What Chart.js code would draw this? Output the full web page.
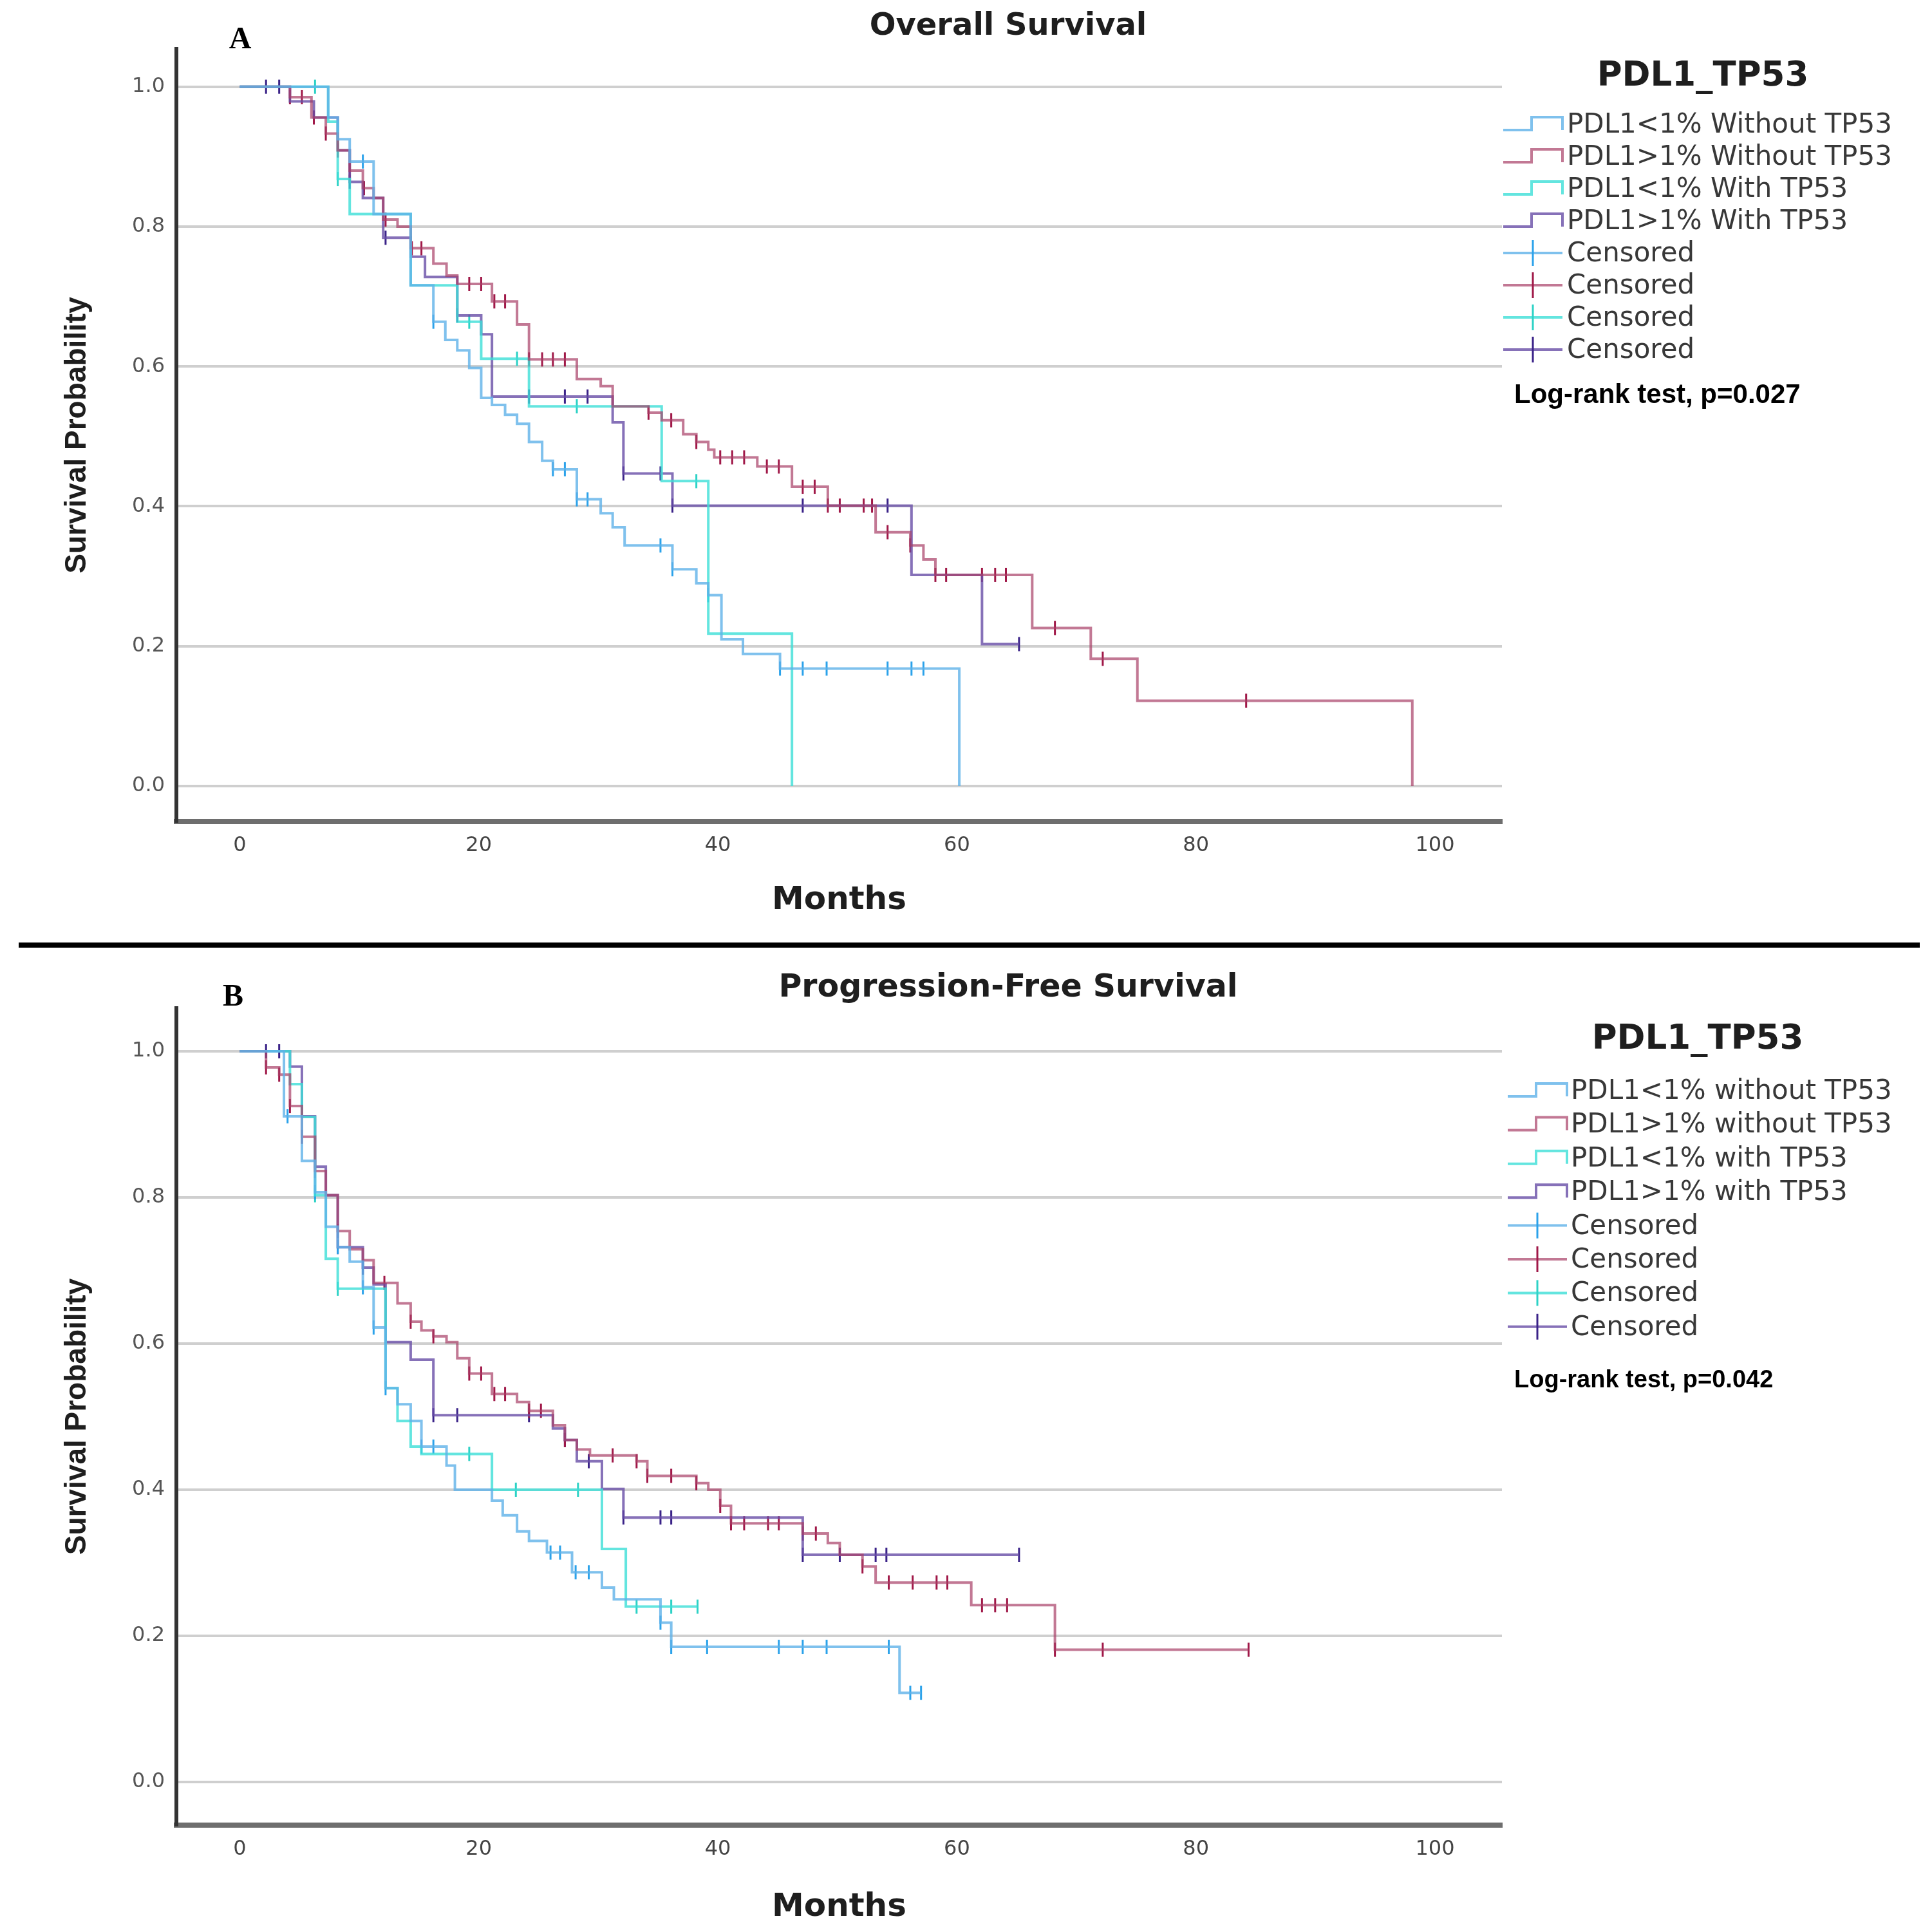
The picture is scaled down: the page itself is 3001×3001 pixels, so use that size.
<!DOCTYPE html>
<html>
<head>
<meta charset="utf-8">
<script src="https://cdn.jsdelivr.net/npm/chart.js@4.4.0/dist/chart.umd.min.js"></script>
<style>
  html, body { margin: 0; padding: 0; background: #fff; }
  #page { position: relative; width: 3001px; height: 3001px; background: #fff; overflow: hidden; }
  #os { position: absolute; left: 0; top: 0; }
  #pfs { position: absolute; left: 0; top: 1480px; }
  #sep { position: absolute; left: 29px; top: 1464px; width: 2953px; height: 8px; background: #000; }
</style>
</head>
<body>
<div id="page">
  <canvas id="os" width="3001" height="1440" style="width:3001px;height:1440px"></canvas>
  <div id="sep"></div>
  <canvas id="pfs" width="3001" height="1521" style="width:3001px;height:1521px"></canvas>
</div>
<script>
// tick labels
const xTicks = [0, 20, 40, 60, 80, 100];
const yTicks = [0, 0.2, 0.4, 0.6, 0.8, 1.0];

// legend texts
const osLabels = ["PDL1<1% Without TP53", "PDL1>1% Without TP53", "PDL1<1% With TP53", "PDL1>1% With TP53",
                  "Censored", "Censored", "Censored", "Censored"];
const pfsLabels = ["PDL1<1% without TP53", "PDL1>1% without TP53", "PDL1<1% with TP53", "PDL1>1% with TP53",
                   "Censored", "Censored", "Censored", "Censored"];

// ---- Overall survival ----
const osBlueT = [0, 7.4, 8.2, 9.2, 11.2, 14.3, 16.2, 17.2, 18.2, 19.2, 20.2, 21.1, 22.2, 23.2, 24.2, 25.3, 26.2, 28.2, 30.2, 31.2, 32.2, 36.2, 38.2, 39.2, 40.3, 42.1, 45.2, 60.2];
const osBlueS = [1, 0.956, 0.925, 0.893, 0.818, 0.716, 0.664, 0.638, 0.623, 0.598, 0.555, 0.545, 0.531, 0.518, 0.492, 0.465, 0.453, 0.41, 0.39, 0.37, 0.344, 0.31, 0.29, 0.273, 0.21, 0.189, 0.168, 0];
const osBlueC = [10.3, 16.2, 26.2, 27.2, 28.2, 29.1, 35.2, 36.2, 39.2, 45.2, 47.1, 49.1, 54.2, 56.2, 57.2];

const osRedT = [0, 4.2, 6.0, 7.2, 8.2, 9.2, 10.3, 11.2, 12.0, 13.2, 14.3, 16.2, 17.3, 18.2, 21.1, 23.2, 24.2, 28.2, 30.2, 31.2, 34.2, 35.3, 37.1, 38.2, 39.2, 39.7, 43.3, 46.2, 49.2, 53.2, 56.1, 57.2, 58.2, 66.3, 71.2, 75.1, 98.1];
const osRedS = [1, 0.985, 0.956, 0.933, 0.909, 0.88, 0.855, 0.841, 0.81, 0.80, 0.769, 0.747, 0.73, 0.718, 0.693, 0.66, 0.61, 0.582, 0.572, 0.543, 0.534, 0.523, 0.503, 0.492, 0.481, 0.47, 0.457, 0.428, 0.401, 0.363, 0.344, 0.324, 0.302, 0.226, 0.182, 0.122, 0];
const osRedC = [4.2, 5.2, 6.2, 7.2, 8.2, 9.2, 10.4, 12.2, 14.4, 15.2, 19.2, 20.2, 21.3, 22.2, 24.2, 25.3, 26.2, 27.2, 34.2, 36.1, 38.2, 40.2, 41.2, 42.2, 44.1, 45.1, 47.1, 48.1, 49.2, 50.2, 52.2, 52.9, 54.2, 56.1, 58.2, 59.1, 62.1, 63.2, 64.1, 68.2, 72.2, 84.2];

const osCyanT = [0, 7.4, 8.2, 9.2, 14.3, 18.2, 20.2, 24.2, 35.3, 39.2, 46.2];
const osCyanS = [1, 0.95, 0.868, 0.818, 0.716, 0.664, 0.611, 0.543, 0.436, 0.218, 0];
const osCyanC = [6.3, 8.2, 19.2, 23.2, 28.2, 38.2];

const osPurpleT = [0, 4.2, 6.2, 8.2, 9.2, 10.3, 12.0, 14.3, 15.5, 18.2, 20.2, 21.1, 31.2, 32.1, 36.2, 56.2, 62.1];
const osPurpleS = [1, 0.979, 0.956, 0.909, 0.864, 0.841, 0.784, 0.757, 0.728, 0.673, 0.646, 0.557, 0.52, 0.447, 0.401, 0.302, 0.203];
const osPurpleC = [2.2, 3.3, 8.2, 9.2, 12.2, 18.2, 24.2, 27.2, 29.1, 32.1, 35.2, 36.2, 47.1, 54.2, 65.2];

// ---- Progression-free survival ----
const pfsBlueT = [0, 3.7, 5.2, 6.3, 7.2, 8.2, 9.2, 10.3, 11.2, 12.2, 13.2, 14.3, 15.2, 17.3, 18.0, 21.1, 22.0, 23.2, 24.2, 25.7, 27.8, 30.3, 31.3, 35.2, 36.1, 55.2];
const pfsBlueS = [1, 0.911, 0.85, 0.807, 0.76, 0.732, 0.712, 0.677, 0.622, 0.539, 0.517, 0.494, 0.459, 0.433, 0.40, 0.385, 0.365, 0.343, 0.33, 0.314, 0.287, 0.266, 0.25, 0.218, 0.185, 0.122];
const pfsBlueC = [4.0, 6.3, 8.2, 10.3, 11.2, 12.2, 15.2, 16.2, 26.0, 26.8, 28.1, 29.2, 35.2, 36.1, 39.1, 45.1, 47.1, 49.1, 54.3, 56.1, 57.0];

const pfsRedT = [0, 2.2, 3.3, 4.2, 5.2, 6.3, 7.2, 8.2, 9.2, 10.3, 11.2, 13.2, 14.3, 15.2, 16.2, 17.3, 18.2, 19.2, 21.1, 23.2, 24.2, 26.2, 27.2, 28.2, 29.3, 33.2, 34.1, 38.2, 39.2, 40.2, 41.1, 47.1, 49.2, 50.2, 52.1, 53.2, 61.2, 68.2];
const pfsRedS = [1, 0.978, 0.968, 0.925, 0.883, 0.836, 0.803, 0.754, 0.729, 0.714, 0.683, 0.655, 0.63, 0.618, 0.61, 0.602, 0.58, 0.559, 0.531, 0.52, 0.508, 0.488, 0.468, 0.455, 0.447, 0.439, 0.419, 0.409, 0.40, 0.378, 0.354, 0.34, 0.327, 0.311, 0.295, 0.273, 0.242, 0.181];
const pfsRedC = [2.2, 3.3, 4.2, 5.2, 6.3, 8.2, 12.1, 14.3, 16.2, 19.2, 20.2, 21.3, 22.2, 24.2, 25.2, 27.2, 31.2, 33.2, 34.1, 36.1, 38.2, 40.2, 41.1, 42.2, 44.2, 45.1, 47.1, 48.2, 52.1, 54.3, 56.3, 58.3, 59.2, 62.1, 63.2, 64.2, 68.2, 72.2, 84.4];

const pfsCyanT = [0, 4.2, 5.2, 6.3, 7.2, 8.2, 12.2, 13.2, 14.3, 15.2, 21.1, 30.3, 32.3];
const pfsCyanS = [1, 0.955, 0.91, 0.803, 0.716, 0.675, 0.539, 0.494, 0.459, 0.449, 0.40, 0.319, 0.24];
const pfsCyanC = [6.3, 8.2, 19.2, 23.1, 28.3, 33.2, 36.1, 38.3];

const pfsPurpleT = [0, 4.2, 5.2, 6.3, 7.2, 8.2, 10.3, 11.2, 12.2, 14.3, 16.2, 26.2, 27.2, 28.2, 30.3, 32.1, 47.1];
const pfsPurpleS = [1, 0.979, 0.911, 0.842, 0.803, 0.732, 0.704, 0.681, 0.602, 0.578, 0.502, 0.484, 0.468, 0.439, 0.401, 0.362, 0.311];
const pfsPurpleC = [2.2, 3.3, 8.2, 10.3, 16.2, 18.2, 24.2, 27.2, 29.2, 32.1, 35.2, 36.1, 47.1, 50.2, 53.2, 54.1, 65.2];

// blue, red, cyan, purple
const lineColors = ["rgba(95,178,232,0.8)", "rgba(168,62,102,0.7)", "rgba(60,222,215,0.8)", "rgba(104,78,166,0.8)"];
const markColors = ["#2ba2ea", "#a01848", "#2dd2c6", "#3a2288"];

Chart.defaults.font.family = "DejaVu Sans";

function survAt(times, surv, t) {
  let s = surv[0];
  for (let i = 0; i < times.length; i++) if (times[i] <= t) s = surv[i];
  return s;
}

function curvePoints(times, surv, cens) {
  const pts = times.map((t, i) => ({ x: t, y: surv[i] }));
  const lastC = Math.max(...cens);
  if (lastC > times[times.length - 1]) pts.push({ x: lastC, y: surv[surv.length - 1] });
  return pts;
}

function buildDatasets(groups) {
  const lines = groups.map((g, i) => ({
    data: curvePoints(g[0], g[1], g[2]),
    borderColor: lineColors[i],
    borderWidth: 4,
    stepped: true,
    pointRadius: 0,
    fill: false
  }));
  const marks = groups.map((g, i) => ({
    data: g[2].map(t => ({ x: t, y: survAt(g[0], g[1], t) })),
    showLine: false,
    pointStyle: "line",
    rotation: 90,
    pointRadius: 11,
    pointBorderWidth: 3,
    borderColor: markColors[i],
    backgroundColor: markColors[i]
  }));
  return lines.concat(marks);
}

function drawSymbol(ctx, i, x0, y) {
  const w = 92;
  if (i < 4) {
    ctx.strokeStyle = lineColors[i];
    ctx.lineWidth = 4;
    ctx.beginPath();
    ctx.moveTo(x0, y + 9);
    ctx.lineTo(x0 + 44, y + 9);
    ctx.lineTo(x0 + 44, y - 11);
    ctx.lineTo(x0 + w, y - 11);
    ctx.lineTo(x0 + w, y + 9);
    ctx.stroke();
  } else {
    ctx.strokeStyle = lineColors[i - 4];
    ctx.lineWidth = 4;
    ctx.beginPath();
    ctx.moveTo(x0, y);
    ctx.lineTo(x0 + w, y);
    ctx.stroke();
    ctx.strokeStyle = markColors[i - 4];
    ctx.lineWidth = 3;
    ctx.beginPath();
    ctx.moveTo(x0 + 46, y - 20);
    ctx.lineTo(x0 + 46, y + 20);
    ctx.stroke();
  }
}

const sidePlugin = {
  id: "side",
  afterDraw(chart, args, o) {
    const ctx = chart.ctx;
    ctx.save();
    ctx.textBaseline = "middle";
    ctx.textAlign = "center";
    ctx.fillStyle = "#1e1e1e";
    ctx.font = `bold ${o.titleSize}px "DejaVu Sans"`;
    ctx.fillText(o.title, 1566, o.titleY);
    ctx.fillStyle = "#000";
    ctx.font = 'bold 48px "Liberation Serif"';
    ctx.fillText(o.letter, o.letterX, o.letterY);
    ctx.fillStyle = "#1e1e1e";
    ctx.font = 'bold 53px "DejaVu Sans"';
    ctx.fillText("PDL1_TP53", o.legX, o.legTitleY);
    ctx.textAlign = "left";
    ctx.font = '42px "DejaVu Sans"';
    o.labels.forEach((lab, i) => {
      const y = o.rowY + i * o.rowGap;
      drawSymbol(ctx, i, o.symX, y);
      ctx.fillStyle = "#383838";
      ctx.fillText(lab, o.textX, y + 2);
    });
    ctx.fillStyle = "#000";
    ctx.font = `bold ${o.pSize}px "Liberation Sans"`;
    ctx.fillText(o.pText, 2352, o.pY);
    ctx.restore();
  }
};

function makeChart(id, groups, yMin, yMax, xHeight, monthsPad, side) {
  return new Chart(document.getElementById(id), {
    type: "line",
    data: { datasets: buildDatasets(groups) },
    plugins: [sidePlugin],
    options: {
      responsive: false,
      animation: false,
      devicePixelRatio: 1,
      layout: { padding: { left: 0, right: 668, top: side.areaTop, bottom: 0 } },
      plugins: { legend: { display: false }, tooltip: { enabled: false }, side: side },
      scales: {
        x: {
          type: "linear",
          min: -5.3,
          max: 105.6,
          afterBuildTicks: s => { s.ticks = xTicks.map(v => ({ value: v })); },
          afterFit: s => { s.height = xHeight; },
          grid: { display: false, drawTicks: false },
          border: { display: true, color: "#6e6e6e", width: 8 },
          ticks: { padding: 18, color: "#444", font: { size: 32 }, maxRotation: 0, autoSkip: false },
          title: { display: true, text: "Months", color: "#1e1e1e", font: { size: 50, weight: "bold" },
                   padding: { top: 0, bottom: monthsPad } }
        },
        y: {
          type: "linear",
          min: yMin,
          max: yMax,
          afterBuildTicks: s => { s.ticks = yTicks.map(v => ({ value: v })); },
          afterFit: s => { s.width = 274; },
          grid: { color: "#cfcfcf", lineWidth: 4, drawTicks: false },
          border: { display: true, color: "#333", width: 6 },
          ticks: { padding: 18, color: "#555", font: { size: 32 }, callback: v => v.toFixed(1) },
          title: { display: true, text: "Survival Probability", color: "#1e1e1e",
                   font: { family: "Liberation Sans", size: 46, weight: "bold" }, padding: { top: 93, bottom: 0 } }
        }
      }
    }
  });
}

makeChart("os", [
  [osBlueT, osBlueS, osBlueC],
  [osRedT, osRedS, osRedC],
  [osCyanT, osCyanS, osCyanC],
  [osPurpleT, osPurpleS, osPurpleC]
], -0.0506, 1.054, 164, 11, {
  areaTop: 76, title: "Overall Survival", titleSize: 48, titleY: 42,
  letter: "A", letterX: 373, letterY: 63,
  legX: 2645, legTitleY: 119, rowY: 193, rowGap: 50, symX: 2335, textX: 2434,
  labels: osLabels, pText: "Log-rank test, p=0.027", pY: 614, pSize: 42
});

makeChart("pfs", [
  [pfsBlueT, pfsBlueS, pfsBlueC],
  [pfsRedT, pfsRedS, pfsRedC],
  [pfsCyanT, pfsCyanS, pfsCyanC],
  [pfsPurpleT, pfsPurpleS, pfsPurpleC]
], -0.059, 1.059, 166, 8, {
  areaTop: 86, title: "Progression-Free Survival", titleSize: 49, titleY: 55,
  letter: "B", letterX: 362, letterY: 70,
  legX: 2637, legTitleY: 135, rowY: 214, rowGap: 52.4, symX: 2342, textX: 2440,
  labels: pfsLabels, pText: "Log-rank test, p=0.042", pY: 665, pSize: 38
});
</script>
</body>
</html>
